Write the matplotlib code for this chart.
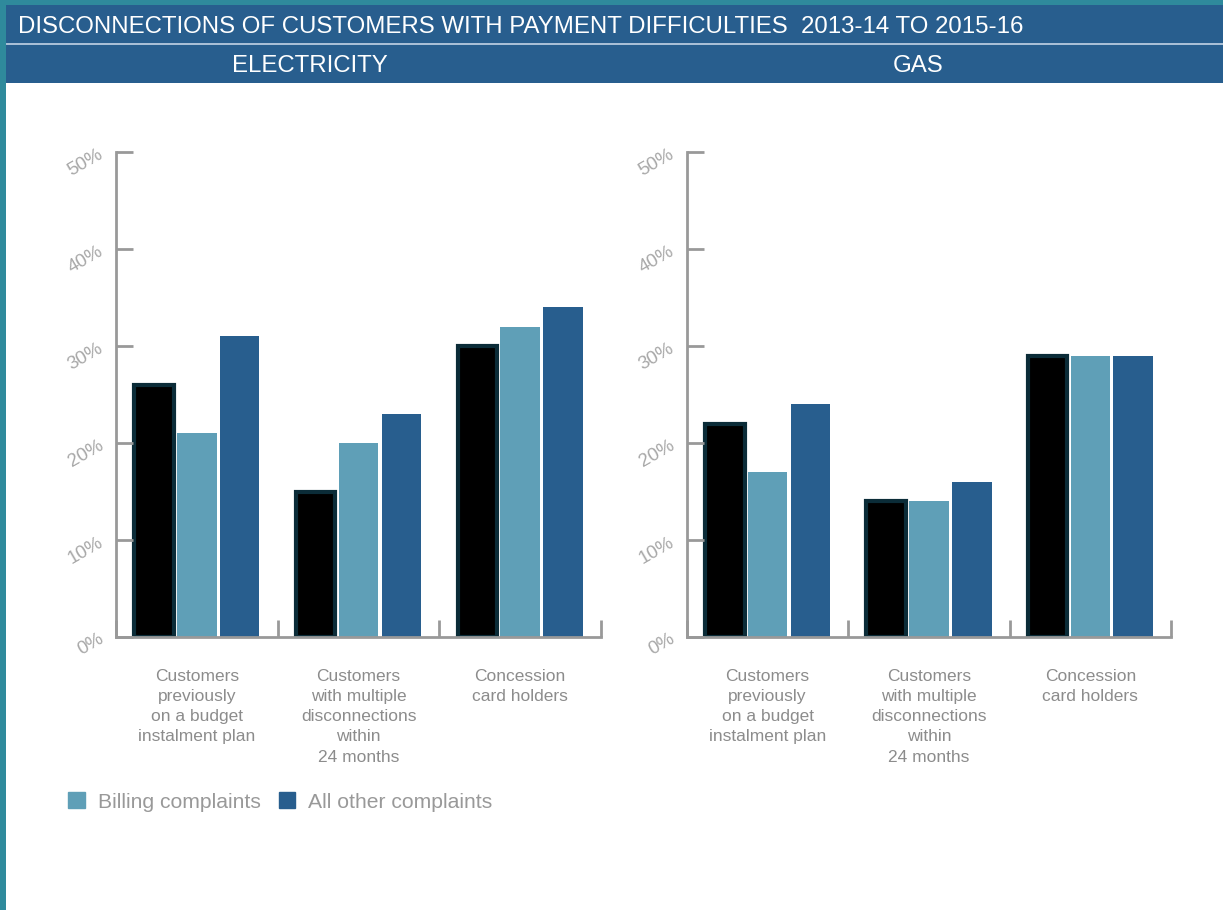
import matplotlib.pyplot as plt
from matplotlib.patches import Rectangle, Patch
import numpy as np

plt.rcParams['font.family'] = ['Liberation Sans', 'DejaVu Sans']

title = "DISCONNECTIONS OF CUSTOMERS WITH PAYMENT DIFFICULTIES  2013-14 TO 2015-16"
panels = ["ELECTRICITY", "GAS"]
categories = ["Customers\npreviously\non a budget\ninstalment plan",
              "Customers\nwith multiple\ndisconnections\nwithin\n24 months",
              "Concession\ncard holders"]
series_names = ["All disconnections", "Billing complaints", "All other complaints"]

elec_total = [26, 15, 30]
elec_billing = [21, 20, 32]
elec_other = [31, 23, 34]
gas_total = [22, 14, 29]
gas_billing = [17, 14, 29]
gas_other = [24, 16, 29]

yticks = [0, 10, 20, 30, 40, 50]

banner = "#285e8e"
teal = "#2f8a9c"
c_black = "#000000"
c_edge = "#0b2c38"
c_light = "#5f9fb7"
c_dark = "#285e8e"
grey = "#999999"
tick_grey = "#a8a8a8"
text_grey = "#8c8c8c"

W, H = 1223, 910
fig = plt.figure(figsize=(W / 100, H / 100), dpi=100)
fig.patch.set_facecolor("white")

# background strips and banner
fig.add_artist(Rectangle((0, 0), 6 / W, 1, transform=fig.transFigure, color=teal, lw=0))
fig.add_artist(Rectangle((0, 1 - 5 / H), 1, 5 / H, transform=fig.transFigure, color=teal, lw=0))
fig.add_artist(Rectangle((6 / W, 1 - 83 / H), 1, 78 / H, transform=fig.transFigure, color=banner, lw=0))
fig.add_artist(Rectangle((6 / W, 1 - 45 / H), 1, 2 / H, transform=fig.transFigure, color="#a9bfd6", lw=0))
fig.text(18 / W, 1 - 27 / H, title, color="white", fontsize=17.3, va="center", ha="left")
fig.text(310 / W, 1 - 66 / H, panels[0], color="white", fontsize=17.3, va="center", ha="center")
fig.text(918 / W, 1 - 66 / H, panels[1], color="white", fontsize=17.3, va="center", ha="center")


def draw_panel(rect, total, billing, other):
    ax = fig.add_axes(rect)
    x = np.arange(len(categories)) + 0.5
    w = 0.245
    off = 0.265
    ax.bar(x - off, total, w, color=c_black, edgecolor=c_edge, linewidth=3)
    ax.bar(x, billing, w, color=c_light, linewidth=0)
    ax.bar(x + off, other, w, color=c_dark, linewidth=0)
    ax.set_xlim(0, 3)
    ax.set_ylim(0, 50)
    for s in ["top", "right"]:
        ax.spines[s].set_visible(False)
    for s in ["left", "bottom"]:
        ax.spines[s].set_color(grey)
        ax.spines[s].set_linewidth(2)
    ax.set_yticks(yticks)
    ax.set_yticklabels([f"{v}%" for v in yticks], rotation=30, color=tick_grey, fontsize=13.5)
    ax.set_xticks([0, 1, 2, 3])
    ax.set_xticklabels([])
    ax.tick_params(axis="both", direction="in", length=12, width=2, color=grey)
    ax.tick_params(axis="y", pad=7)
    for xi, lab in zip(x, categories):
        ax.text(xi, -3.3, lab, ha="center", va="top", color=text_grey,
                fontsize=12.5, linespacing=1.43, transform=ax.transData, clip_on=False)
    return ax


bottom = 1 - 637 / H
height = (637 - 152) / H
draw_panel([116 / W, bottom, (601 - 116) / W, height], elec_total, elec_billing, elec_other)
draw_panel([687 / W, bottom, (1171 - 687) / W, height], gas_total, gas_billing, gas_other)

handles = [Patch(color=c_light, label=series_names[1]), Patch(color=c_dark, label=series_names[2])]
leg = fig.legend(handles=handles, loc="center left", bbox_to_anchor=(49 / W, 1 - 802 / H),
                 ncol=2, frameon=False, fontsize=15.2, handlelength=0.8, handleheight=0.8,
                 handletextpad=0.6, columnspacing=0.86)
for t in leg.get_texts():
    t.set_color(grey)

fig.savefig("out.png", dpi=100)
